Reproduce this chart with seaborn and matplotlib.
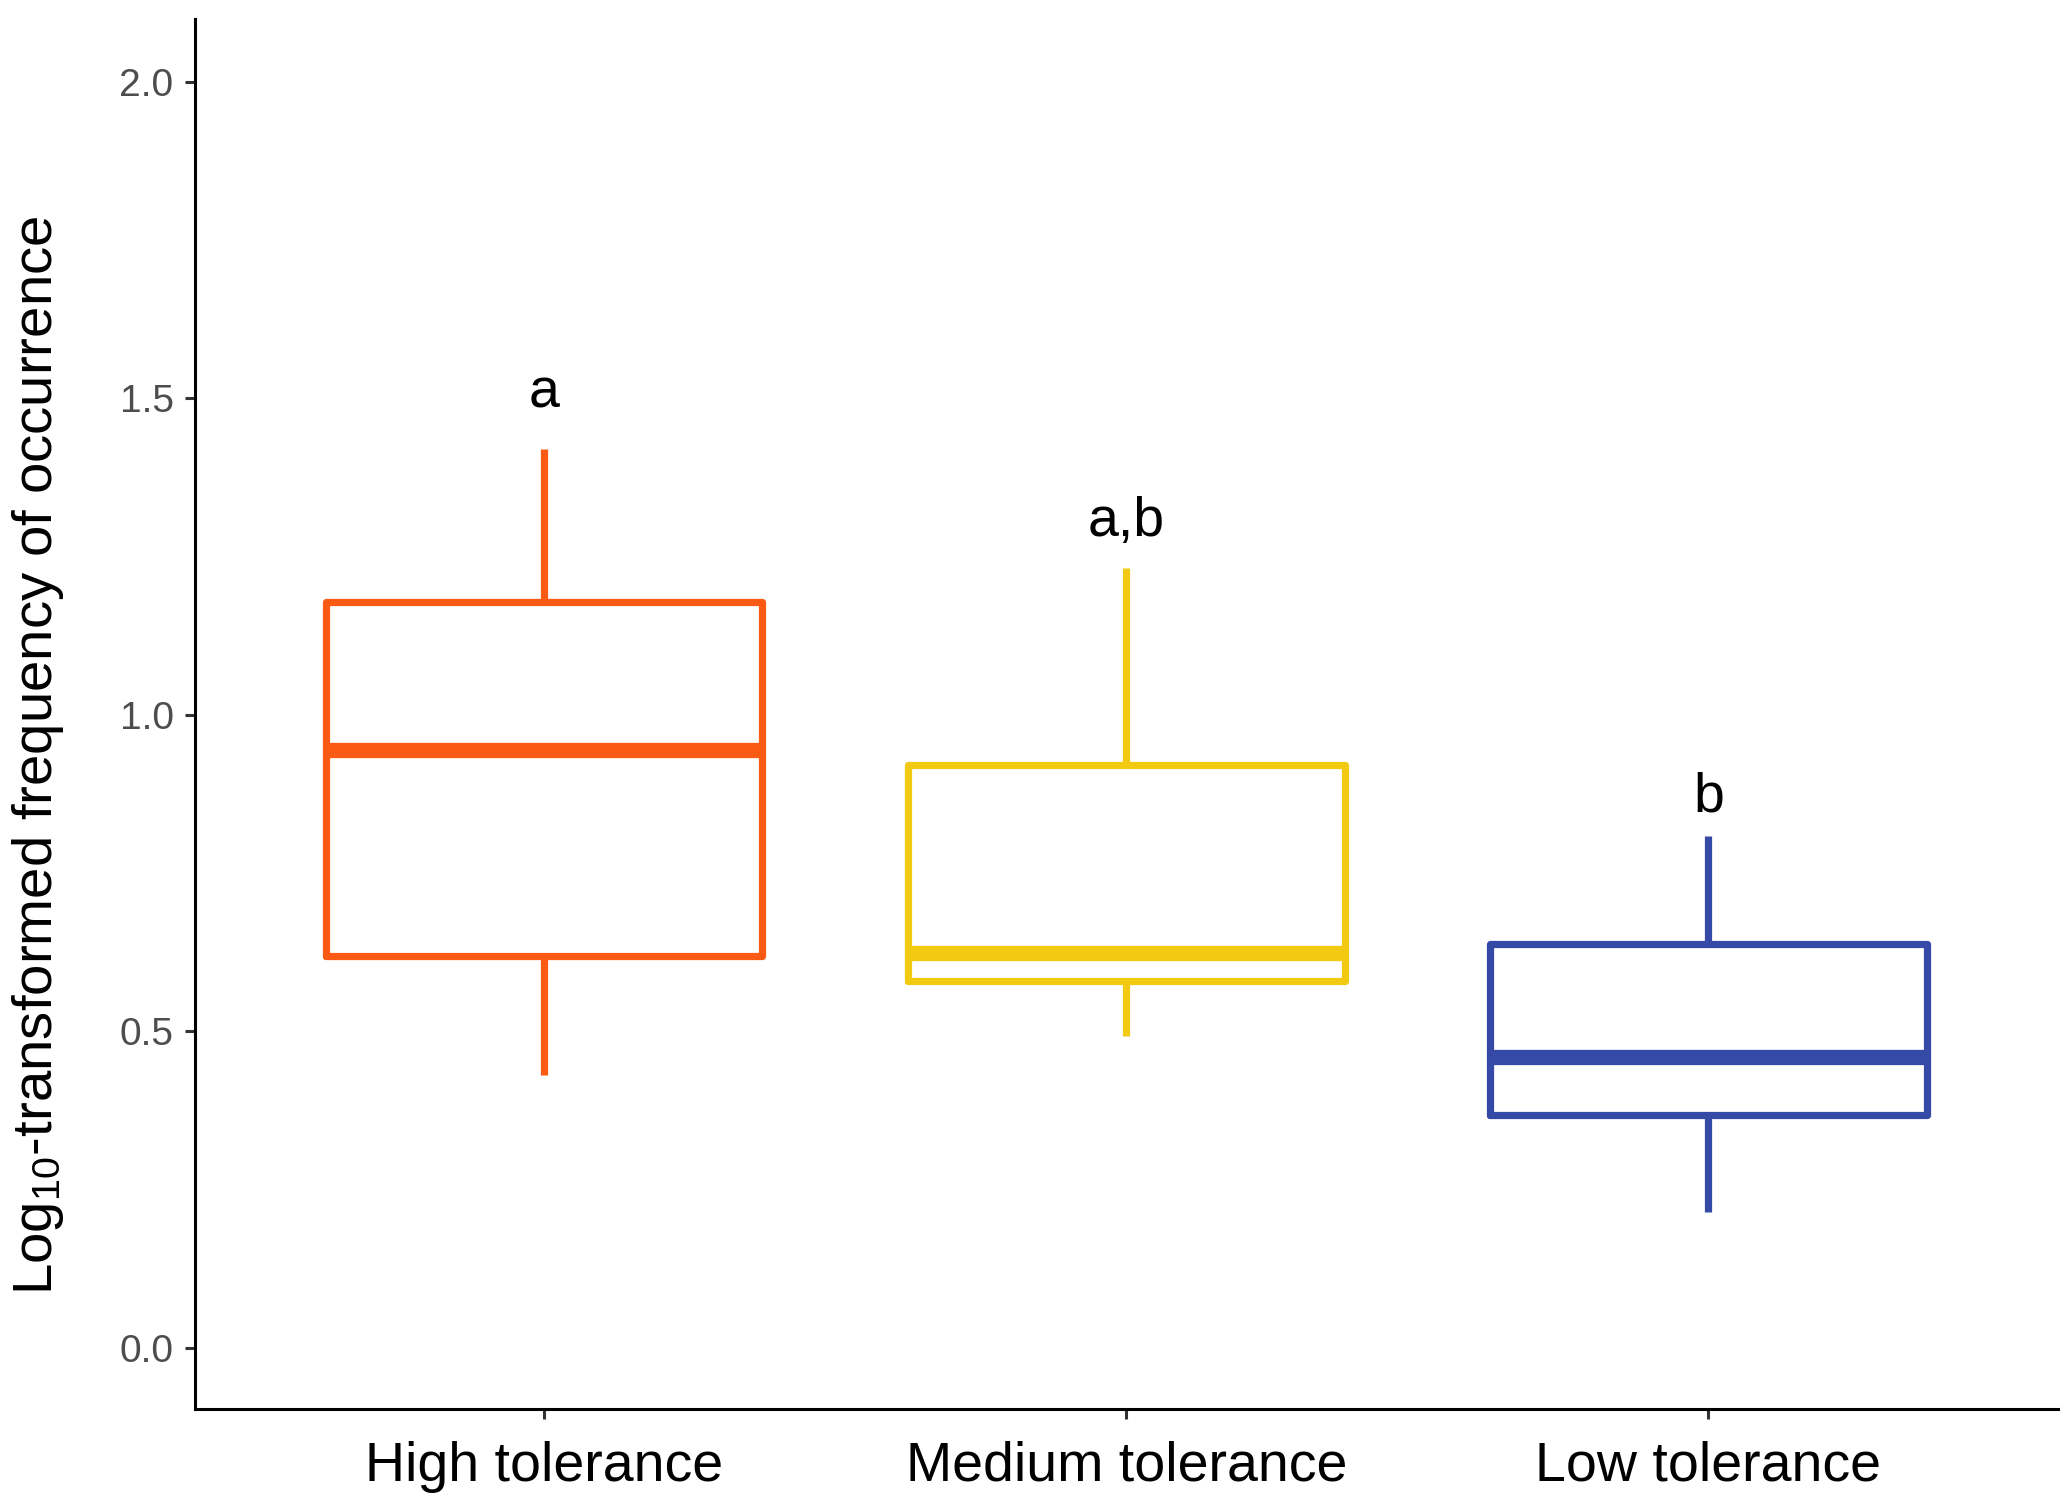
import matplotlib
matplotlib.use("Agg")
import matplotlib.pyplot as plt
import seaborn as sns
import pandas as pd

# Five-number summaries (min whisker, Q1, median, Q3, max whisker)
categories = ["High tolerance", "Medium tolerance", "Low tolerance"]
high_vals = [0.431, 0.619, 0.944, 1.178, 1.420]
medium_vals = [0.492, 0.580, 0.623, 0.921, 1.232]
low_vals = [0.215, 0.368, 0.460, 0.638, 0.808]
letters = ["a", "a,b", "b"]
letter_y = [1.485, 1.282, 0.847]
colors = ["#FA5A14", "#F2CA12", "#3549A6"]
yticks = [0.0, 0.5, 1.0, 1.5, 2.0]

sns.set_theme(style="ticks")
plt.rcParams["font.family"] = ["Liberation Sans", "DejaVu Sans"]
plt.rcParams["mathtext.fontset"] = "custom"
plt.rcParams["mathtext.rm"] = "Liberation Sans"
plt.rcParams["mathtext.it"] = "Liberation Sans:italic"
plt.rcParams["mathtext.bf"] = "Liberation Sans:bold"

df = pd.DataFrame({
    "group": [categories[0]] * 5 + [categories[1]] * 5 + [categories[2]] * 5,
    "value": high_vals + medium_vals + low_vals,
})

fig = plt.figure(figsize=(2067 / 200, 1508 / 200), dpi=200)
ax = fig.add_axes([0.0942, 0.0659, 0.9013, 0.9218])

sns.boxplot(data=df, x="group", y="value", hue="group", order=categories,
            hue_order=categories, palette=colors, fill=False, width=0.75,
            linewidth=2.6, showcaps=False, whis=1.5, legend=False,
            medianprops={"linewidth": 5.5, "solid_capstyle": "butt"},
            whiskerprops={"solid_capstyle": "butt"},
            ax=ax)

for i, (lab, yv) in enumerate(zip(letters, letter_y)):
    ax.text(i, yv, lab, ha="center", va="baseline", fontsize=20, color="black")

ax.set_xlim(-0.6, 2.6)
ax.set_ylim(-0.096, 2.1)
ax.set_yticks(yticks)
ax.set_yticklabels([f"{t:.1f}" for t in yticks])
ax.set_xlabel("")
ax.set_ylabel(r"Log$_{10}$-transformed frequency of occurrence", fontsize=20.3,
              color="black")
ax.yaxis.set_label_coords(-0.069, 0.47)
ax.tick_params(axis="y", labelsize=14, colors="#333333", labelcolor="#4D4D4D",
               length=3.6, width=1.1, pad=4)
ax.tick_params(axis="x", labelsize=20, colors="#333333", labelcolor="black",
               length=3.6, width=1.1, pad=8)
for s in ["top", "right"]:
    ax.spines[s].set_visible(False)
for s in ["left", "bottom"]:
    ax.spines[s].set_linewidth(1.1)
    ax.spines[s].set_color("black")

fig.savefig("out.png", dpi=200, facecolor="white")
